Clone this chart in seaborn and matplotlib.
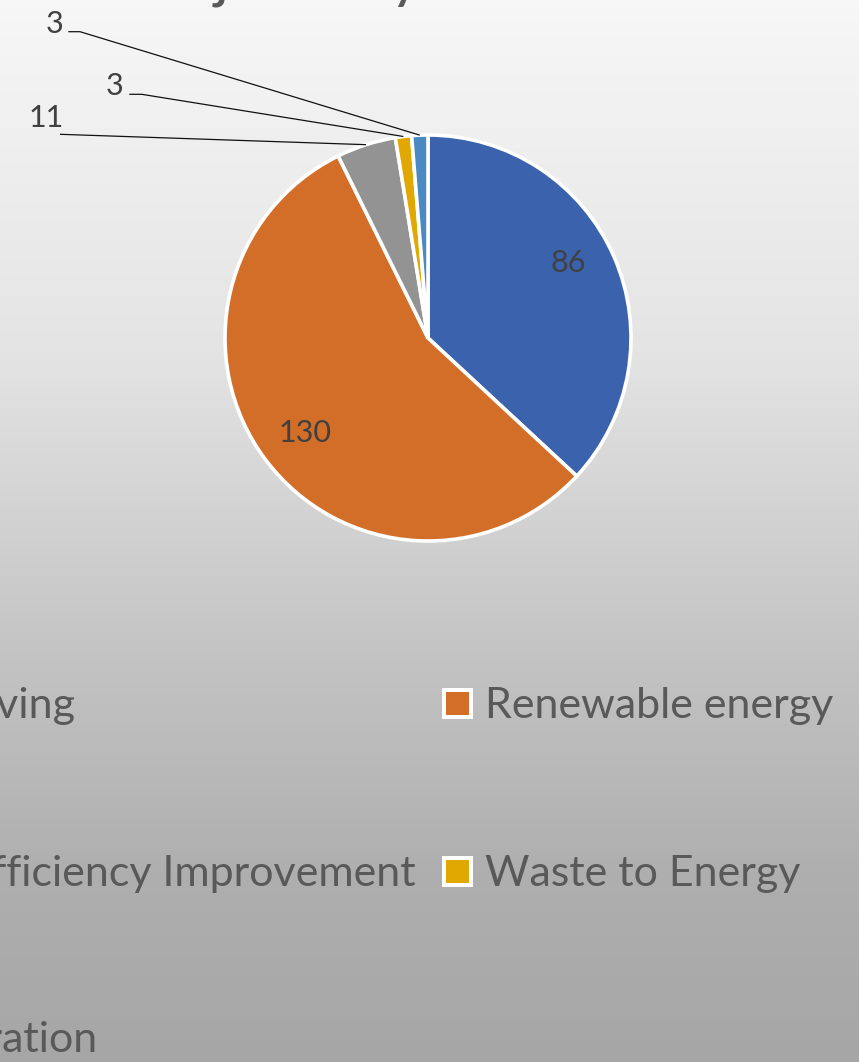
import numpy as np
import pandas as pd
import seaborn as sns
import matplotlib
matplotlib.use("Agg")
import matplotlib.pyplot as plt
from matplotlib.patches import Rectangle

# ---------------- data ----------------
categories = ["Energy Saving", "Renewable energy", "Energy Efficiency Improvement",
              "Waste to Energy", "Cogeneration"]
values = [86, 130, 11, 3, 3]
colors = ["#3B63AD", "#D36E29", "#939393", "#E0A800", "#4A89C2"]
title_text = "Number of Projects by Sector"

df = pd.DataFrame({"category": categories, "value": values})

# ---------------- style ----------------
sns.set_theme(style="white")
plt.rcParams["font.family"] = ["Lato", "DejaVu Sans"]
palette = sns.color_palette(colors)

W, H = 859, 1062
fig = plt.figure(figsize=(W / 100, H / 100), dpi=100)

# overlay axes in pixel coordinates (background, legend, title)
ov = fig.add_axes([0, 0, 1, 1])
ov.set_xlim(0, W)
ov.set_ylim(H, 0)
ov.axis("off")

stops_y = [0, 350, 650, 870, 1062]
stops_v = [247, 228, 196, 175, 166]
grad = np.interp(np.arange(H), stops_y, stops_v) / 255.0
img = np.repeat(grad[:, None, None], 3, axis=2)
ov.imshow(img, extent=[0, W, H, 0], aspect="auto", zorder=0)

# ---------------- pie ----------------
cx, cy, R = 428, 338, 203
pad = 1.04
ax = fig.add_axes([(cx - R * pad) / W, (H - cy - R * pad) / H, 2 * R * pad / W, 2 * R * pad / H])
wedges, _ = ax.pie(df["value"], colors=palette, startangle=90, counterclock=False,
                   radius=1, wedgeprops=dict(edgecolor="white", linewidth=2.6))
ax.set_xlim(-pad, pad)
ax.set_ylim(-pad, pad)
ax.axis("off")


def to_data(x, y):
    return ((x - cx) / R, (cy - y) / R)


label_color = "#404040"
label_fs = 22

# labels inside the two big slices (anchor: center-x, baseline in pixels)
inside = {0: (568, 272), 1: (305, 442)}
for i, (x, y) in inside.items():
    dx, dy = to_data(x, y)
    ax.text(dx, dy, str(df["value"][i]), ha="center", va="baseline",
            fontsize=label_fs, color=label_color)

# callout labels for the small slices
outside = {
    2: ((46, 127), [(60, 134.3)]),
    3: ((115, 95), [(129.3, 94.3), (141.7, 94.3)]),
    4: ((55, 33), [(68.3, 31.7), (80, 31.7)]),
}
for i, ((x, y), pts) in outside.items():
    dx, dy = to_data(x, y)
    ax.text(dx, dy, str(df["value"][i]), ha="center", va="baseline",
            fontsize=label_fs, color=label_color, clip_on=False)
    w = wedges[i]
    th = np.deg2rad((w.theta1 + w.theta2) / 2)
    xs = [to_data(*p)[0] for p in pts] + [np.cos(th)]
    ys = [to_data(*p)[1] for p in pts] + [np.sin(th)]
    ax.plot(xs, ys, color="#111111", lw=0.9, clip_on=False, solid_capstyle="butt")

# ---------------- legend (2 columns, left column cropped) ----------------
leg_fs = 31
leg_color = "#595959"
row_base = [718, 886, 1052]
left_right_ends = [75, 416, 97]
for k, i in enumerate([0, 2, 4]):
    ov.text(left_right_ends[k], row_base[k], categories[i], ha="right", va="baseline",
            fontsize=leg_fs, color=leg_color)
for k, i in enumerate([1, 3]):
    top = row_base[k] - 30
    ov.add_patch(Rectangle((442, top), 31, 31, facecolor="white", edgecolor="none", zorder=3))
    ov.add_patch(Rectangle((446, top + 4), 23, 23, facecolor=palette[i], edgecolor="none", zorder=4))
    ov.text(485, row_base[k], categories[i], ha="left", va="baseline",
            fontsize=leg_fs, color=leg_color)

# ---------------- title (mostly above the visible area) ----------------
renderer = fig.canvas.get_renderer()
fs0 = 50


def tw(s):
    t = ov.text(0, 0, s, fontsize=fs0)
    bb = t.get_window_extent(renderer)
    t.remove()
    return bb.width


jc = (tw("Number of Pro") + tw("Number of Proj")) / 2
yc = (tw("Number of Projects b") + tw("Number of Projects by")) / 2
scale = 184 / (yc - jc)
fs = fs0 * scale
x0 = 222 - jc * scale
base = 7 - 0.18 * fs * 100 / 72
ov.text(x0, base, title_text, ha="left", va="baseline", fontsize=fs, color=leg_color)

fig.savefig("out.png", dpi=100)
